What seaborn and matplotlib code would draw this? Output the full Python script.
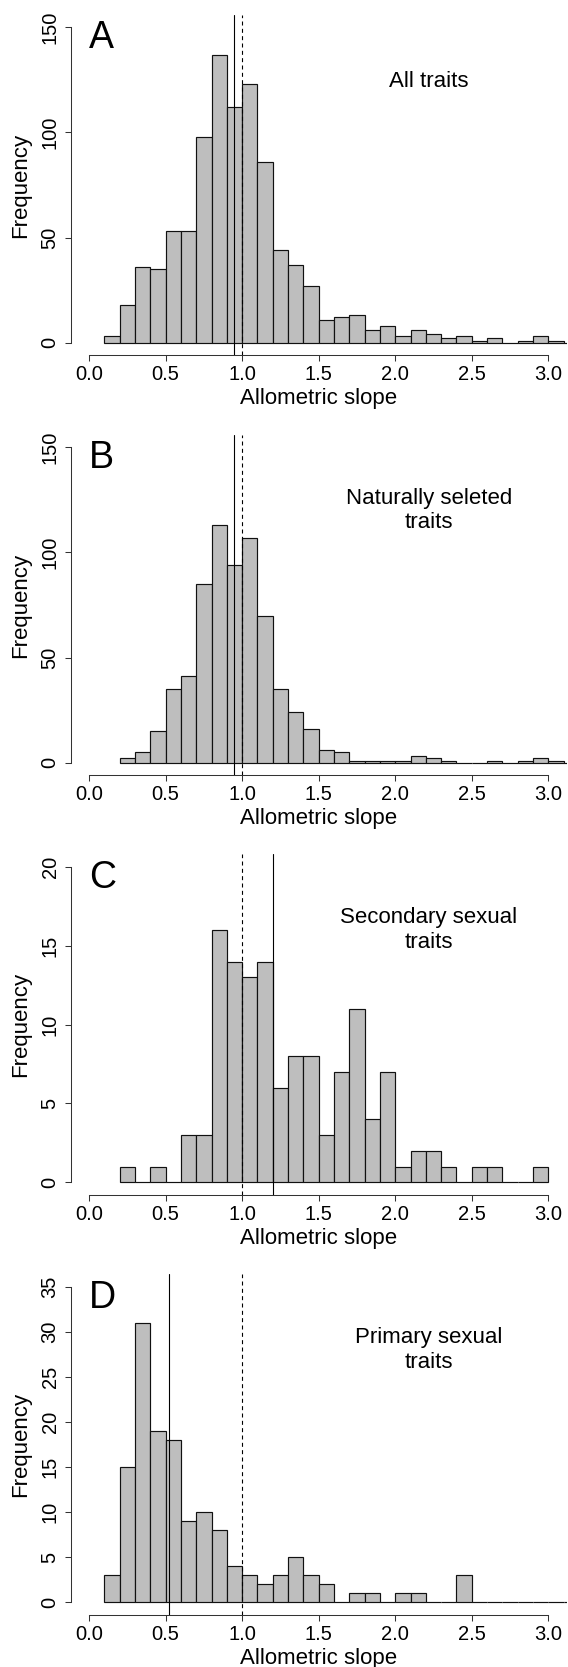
import numpy as np
import pandas as pd
import matplotlib
matplotlib.use("Agg")
import matplotlib.pyplot as plt
import seaborn as sns

# ---------------- data ----------------
bin_width = 0.1

counts_all = [3, 18, 36, 35, 53, 53, 98, 137, 112, 123, 86, 44, 37, 27, 11, 12, 13,
              6, 8, 3, 6, 4, 2, 3, 1, 2, 0, 1, 3, 1, 0]
start_all = 0.1

counts_natural = [2, 5, 15, 35, 41, 85, 113, 94, 107, 70, 35, 24, 16, 6, 5, 1, 1, 1,
                  1, 3, 2, 1, 0, 0, 1, 0, 1, 2, 1, 0]
start_natural = 0.2

counts_secondary = [1, 0, 1, 0, 3, 3, 16, 14, 13, 14, 6, 8, 8, 3, 7, 11, 4, 7, 1, 2,
                    2, 1, 0, 1, 1, 0, 0, 1]
start_secondary = 0.2

counts_primary = [3, 15, 31, 19, 18, 9, 10, 8, 4, 3, 2, 3, 5, 3, 2, 0, 1, 1, 0, 1, 1,
                  0, 0, 3, 0, 0, 0, 0, 0, 0, 0]
start_primary = 0.1

panel_letters = ["A", "B", "C", "D"]
panel_titles = ["All traits", "Naturally seleted\ntraits",
                "Secondary sexual\ntraits", "Primary sexual\ntraits"]
title_y = [124, 120, 16, 28]
mean_slopes = [0.945, 0.945, 1.2, 0.52]
isometry = 1.0
y_max = [150, 150, 20, 35]
y_step = [50, 50, 5, 5]
x_ticks = [0.0, 0.5, 1.0, 1.5, 2.0, 2.5, 3.0]

all_counts = [counts_all, counts_natural, counts_secondary, counts_primary]
all_starts = [start_all, start_natural, start_secondary, start_primary]

# ---------------- style ----------------
sns.set_style("ticks")
plt.rcParams["font.family"] = ["Liberation Sans", "DejaVu Sans"]
plt.rcParams["axes.linewidth"] = 0.75
plt.rcParams["text.color"] = "black"
plt.rcParams["axes.labelcolor"] = "black"
plt.rcParams["xtick.color"] = "black"
plt.rcParams["ytick.color"] = "black"

fig = plt.figure(figsize=(5.68, 16.67), dpi=100)
bottoms = [0.78686, 0.53491, 0.28321, 0.03125]
axis_col = "#333333"

for i in range(4):
    ax = fig.add_axes([0.1245, bottoms[i], 0.8732, 0.20432])
    counts = all_counts[i]
    n = len(counts)
    edges = [round(all_starts[i] + bin_width * k, 3) for k in range(n + 1)]
    centers = [round((edges[k] + edges[k + 1]) / 2, 3) for k in range(n)]
    df = pd.DataFrame({"slope": centers, "count": counts})
    sns.histplot(data=df, x="slope", weights="count", bins=edges, ax=ax,
                 color="#BEBEBE", edgecolor="#111111", linewidth=0.85, alpha=1)

    ymax = y_max[i]
    ax.set_xlim(-0.12, 3.12)
    ax.set_ylim(-0.04 * ymax, 1.04 * ymax)

    ax.axvline(mean_slopes[i], color="black", lw=0.8)
    ax.axvline(isometry, color="black", lw=0.8, linestyle=(0, (3.6, 3.0)))

    for s in ["top", "right"]:
        ax.spines[s].set_visible(False)
    ax.spines["left"].set_bounds(0, ymax)
    ax.spines["bottom"].set_bounds(0, 3)
    ax.spines["left"].set_color(axis_col)
    ax.spines["bottom"].set_color(axis_col)

    yt = list(range(0, ymax + 1, y_step[i]))
    ax.set_yticks(yt)
    ax.set_yticklabels([str(v) for v in yt], rotation=90, va="center")
    ax.set_xticks(x_ticks)
    ax.set_xticklabels([f"{v:.1f}" for v in x_ticks])
    ax.tick_params(axis="both", length=4, width=0.75, color=axis_col,
                   labelsize=14.5, labelcolor="black")
    ax.tick_params(axis="x", pad=3)
    ax.tick_params(axis="y", pad=4)

    ax.set_xlabel("Allometric slope", fontsize=16, labelpad=3, color="black")
    ax.set_ylabel("Frequency", fontsize=16, labelpad=6.5, color="black")

    ax.text(0.0, 0.902, panel_letters[i], transform=ax.get_xaxis_transform(),
            ha="left", va="baseline", fontsize=27, color="black")
    ax.text(2.22, title_y[i], panel_titles[i], ha="center", va="center",
            fontsize=16, linespacing=1.2, color="black")

fig.savefig("out.png", dpi=100)
